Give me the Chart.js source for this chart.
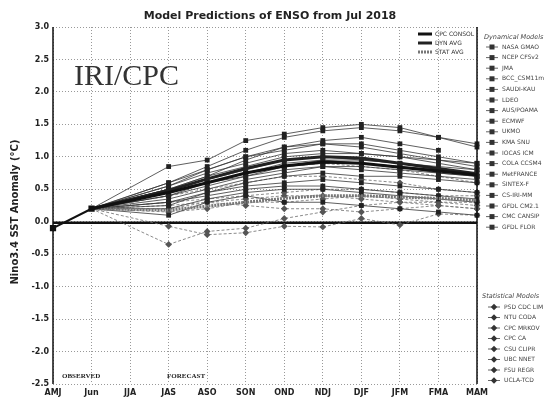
<!DOCTYPE html>
<html>
<head>
<meta charset="utf-8">
<script src="https://cdn.jsdelivr.net/npm/chart.js@4/dist/chart.umd.min.js"></script>
<style>
  body { margin: 0; background: #fff; }
  #plume { display: block; }
</style>
</head>
<body>
<canvas id="plume" width="551" height="406"></canvas>
<script>
// seasons on the x axis
const categories = ['AMJ', 'Jun', 'JJA', 'JAS', 'ASO', 'SON', 'OND', 'NDJ', 'DJF', 'JFM', 'FMA', 'MAM'];
const yMin = -2.5;
const yMax = 3.0;
const yStep = 0.5;

// observed anomalies (AMJ, Jun)
const observed = [-0.1, 0.2];

// forecasts, JAS .. MAM
const cpcConsol = [0.45, 0.6, 0.75, 0.86, 0.92, 0.9, 0.84, 0.78, 0.72];
const dynAvg    = [0.48, 0.66, 0.82, 0.95, 1.0, 0.98, 0.9, 0.82, 0.74];
const statAvg   = [0.18, 0.24, 0.3, 0.36, 0.4, 0.4, 0.38, 0.36, 0.33];

const dynNames = ['NASA GMAO', 'NCEP CFSv2', 'JMA', 'BCC_CSM11m', 'SAUDI-KAU', 'LDEO', 'AUS/POAMA', 'ECMWF', 'UKMO',
  'KMA SNU', 'IOCAS ICM', 'COLA CCSM4', 'MetFRANCE', 'SINTEX-F', 'CS-IRI-MM', 'GFDL CM2.1', 'CMC CANSIP', 'GFDL FLOR'];
const nasaGmao  = [0.6, 0.85, 1.1, 1.3, 1.4, 1.45, 1.4, 1.3, 1.15];
const ncepCfsv2 = [0.55, 0.8, 1.0, 1.15, 1.25, 1.3, 1.2, 1.1, null];
const jma       = [0.5, 0.7, 0.85, 1.0, 1.05, 1.05, 1.0, 0.95, 0.9];
const bccCsm    = [0.3, 0.45, 0.55, 0.6, 0.65, 0.6, 0.55, 0.5, 0.45];
const saudiKau  = [0.85, 0.95, 1.25, 1.35, 1.45, 1.5, 1.45, 1.3, 1.2];
const ldeo      = [0.4, 0.55, 0.7, 0.85, 0.95, 0.95, 0.9, 0.85, 0.8];
const ausPoama  = [0.5, 0.7, 0.95, 1.15, 1.2, 1.15, 1.05, 0.95, 0.85];
const ecmwf     = [0.55, 0.75, 0.9, 1.05, 1.1, 1.05, 1.0, 0.9, 0.8];
const ukmo      = [0.5, 0.65, 0.8, 0.95, 1.0, 0.95, 0.9, 0.8, 0.7];
const kmaSnu    = [0.35, 0.5, 0.65, 0.75, 0.85, 0.8, 0.75, 0.7, 0.65];
const iocasIcm  = [0.1, 0.3, 0.4, 0.3, 0.3, 0.25, 0.2, 0.15, 0.1];
const colaCcsm4 = [0.6, 0.8, 1.0, 1.1, 1.2, 1.2, 1.1, 1.0, 0.9];
const metFrance = [0.45, 0.6, 0.75, 0.9, 0.95, 0.9, 0.85, 0.75, 0.7];
const sintexF   = [0.3, 0.4, 0.5, 0.55, 0.55, 0.5, 0.45, 0.4, 0.35];
const csIriMm   = [0.4, 0.6, 0.75, 0.85, 0.9, 0.9, 0.85, 0.8, 0.75];
const gfdlCm21  = [0.25, 0.45, 0.6, 0.7, 0.75, 0.7, 0.7, 0.65, 0.6];
const cmcCansip = [0.45, 0.6, 0.7, 0.8, 0.85, 0.85, 0.8, 0.75, 0.7];
const gfdlFlor  = [0.2, 0.35, 0.45, 0.5, 0.5, 0.45, 0.4, 0.35, 0.3];
const dynValues = [nasaGmao, ncepCfsv2, jma, bccCsm, saudiKau, ldeo, ausPoama, ecmwf, ukmo,
  kmaSnu, iocasIcm, colaCcsm4, metFrance, sintexF, csIriMm, gfdlCm21, cmcCansip, gfdlFlor];

const statNames = ['PSD CDC LIM', 'NTU CODA', 'CPC MRKOV', 'CPC CA', 'CSU CLIPR', 'UBC NNET', 'FSU REGR', 'UCLA-TCD'];
const cdcLim   = [-0.35, -0.15, -0.1, 0.05, 0.15, 0.25, 0.3, 0.3, 0.3];
const ntuCoda  = [-0.07, -0.2, -0.17, -0.07, -0.08, 0.05, -0.05, 0.12, 0.1];
const cpcMrkov = [0.3, 0.35, 0.4, 0.45, 0.5, 0.5, 0.45, 0.4, 0.4];
const cpcCa    = [0.2, 0.3, 0.35, 0.4, 0.4, 0.35, 0.3, 0.25, 0.2];
const csuClipr = [0.4, 0.5, 0.6, 0.7, 0.7, 0.65, 0.6, 0.5, 0.45];
const ubcNnet  = [0.15, 0.2, 0.3, 0.3, 0.35, 0.4, 0.35, 0.3, 0.25];
const fsuRegr  = [0.5, 0.6, 0.75, 0.85, 0.9, 0.85, 0.8, 0.7, 0.6];
const uclaTcd  = [0.25, 0.3, 0.25, 0.2, 0.2, 0.15, 0.2, 0.25, 0.2];
const statValues = [cdcLim, ntuCoda, cpcMrkov, cpcCa, csuClipr, ubcNnet, fsuRegr, uclaTcd];

// forecast lines start from the last observed value
function toSeries(fc) {
    return [null, observed[1], null].concat(fc);
}
const fcRadius = r => ctx => (ctx.dataIndex < 3 ? 0 : r);

const datasets = [];
datasets.push({
    label: 'Observed',
    data: observed.concat(new Array(categories.length - observed.length).fill(null)),
    borderColor: '#111', backgroundColor: '#111', borderWidth: 2,
    pointRadius: 3, pointStyle: 'rect'
});
datasets.push({
    label: 'CPC CONSOL', data: toSeries(cpcConsol),
    borderColor: '#111', borderWidth: 3, pointRadius: 0, spanGaps: true
});
datasets.push({
    label: 'DYN AVG', data: toSeries(dynAvg),
    borderColor: '#222', borderWidth: 3, pointRadius: 0, spanGaps: true
});
datasets.push({
    label: 'STAT AVG', data: toSeries(statAvg),
    borderColor: '#777', borderWidth: 3, borderDash: [2, 1], pointRadius: 0, spanGaps: true
});
dynNames.forEach((name, i) => {
    datasets.push({
        label: name, data: toSeries(dynValues[i]),
        borderColor: 'rgba(55,55,55,0.8)', backgroundColor: '#222', borderWidth: 1,
        pointStyle: 'rect', pointRadius: fcRadius(3.4), pointBorderWidth: 0, spanGaps: true
    });
});
statNames.forEach((name, i) => {
    datasets.push({
        label: name, data: toSeries(statValues[i]),
        borderColor: 'rgba(110,110,110,0.8)', backgroundColor: '#555', borderWidth: 1, borderDash: [3, 2],
        pointStyle: 'rectRot', pointRadius: fcRadius(3.4), pointBorderWidth: 0, spanGaps: true
    });
});

const decor = {
    id: 'decor',
    beforeDatasetsDraw(chart) {
        const { ctx, chartArea: a, scales: { y } } = chart;
        const y0 = y.getPixelForValue(0);
        ctx.save();
        ctx.strokeStyle = '#111';
        ctx.lineWidth = 2.5;
        ctx.beginPath();
        ctx.moveTo(a.left, y0 + 1);
        ctx.lineTo(a.right, y0 + 1);
        ctx.stroke();
        ctx.restore();
    },
    afterDraw(chart) {
        const { ctx, chartArea: a } = chart;
        ctx.save();
        // frame
        ctx.strokeStyle = '#111';
        ctx.lineWidth = 1.5;
        ctx.beginPath();
        ctx.moveTo(a.left, a.top); ctx.lineTo(a.left, a.bottom);
        ctx.moveTo(a.right, a.top); ctx.lineTo(a.right, a.bottom);
        ctx.stroke();

        ctx.fillStyle = '#222';
        ctx.textBaseline = 'middle';
        ctx.textAlign = 'center';
        ctx.font = 'bold 11px "DejaVu Sans"';
        ctx.fillText('Model Predictions of ENSO from Jul 2018', 270, 16);

        ctx.save();
        ctx.translate(15, 212);
        ctx.rotate(-Math.PI / 2);
        ctx.font = 'bold 10px "DejaVu Sans"';
        ctx.fillText('Nino3.4 SST Anomaly (\u00B0C)', 0, 0);
        ctx.restore();

        ctx.textAlign = 'left';
        ctx.font = '30px "Liberation Serif"';
        ctx.fillStyle = '#333';
        ctx.fillText('IRI/CPC', 74, 77);

        ctx.font = 'bold 7px "Liberation Serif"';
        ctx.fillStyle = '#222';
        ctx.fillText('OBSERVED', 62, 376);
        ctx.fillText('FORECAST', 167, 376);

        // inner legend
        const inner = [['CPC CONSOL', '#111', []], ['DYN AVG', '#222', []], ['STAT AVG', '#777', [2, 1]]];
        ctx.font = '6px "DejaVu Sans"';
        inner.forEach((it, i) => {
            const yy = 34 + i * 9;
            ctx.strokeStyle = it[1];
            ctx.lineWidth = 3;
            ctx.setLineDash(it[2]);
            ctx.beginPath(); ctx.moveTo(418, yy); ctx.lineTo(432, yy); ctx.stroke();
            ctx.setLineDash([]);
            ctx.fillStyle = '#333';
            ctx.fillText(it[0], 435, yy);
        });

        // outer legend
        const drawEntry = (name, x, yy, style) => {
            ctx.strokeStyle = '#666';
            ctx.lineWidth = 1;
            ctx.beginPath(); ctx.moveTo(x - 6, yy); ctx.lineTo(x + 6, yy); ctx.stroke();
            ctx.fillStyle = '#333';
            if (style === 'rect') {
                ctx.fillRect(x - 2.5, yy - 2.5, 5, 5);
            } else {
                ctx.beginPath();
                ctx.moveTo(x, yy - 3.2); ctx.lineTo(x + 3.2, yy); ctx.lineTo(x, yy + 3.2); ctx.lineTo(x - 3.2, yy);
                ctx.closePath(); ctx.fill();
            }
            ctx.fillStyle = '#444';
            ctx.fillText(name, x + 10, yy);
        };
        ctx.font = 'italic 6.5px "DejaVu Sans"';
        ctx.fillStyle = '#444';
        ctx.fillText('Dynamical Models', 484, 37);
        ctx.font = '6px "DejaVu Sans"';
        dynNames.forEach((n, i) => drawEntry(n, 492, 47 + i * 10.6, 'rect'));
        ctx.font = 'italic 6.5px "DejaVu Sans"';
        ctx.fillStyle = '#444';
        ctx.fillText('Statistical Models', 482, 296);
        ctx.font = '6px "DejaVu Sans"';
        statNames.forEach((n, i) => drawEntry(n, 494, 307 + i * 10.5, 'rectRot'));
        ctx.restore();
    }
};

new Chart(document.getElementById('plume').getContext('2d'), {
    type: 'line',
    data: { labels: categories, datasets: datasets },
    options: {
        responsive: false,
        animation: false,
        layout: { padding: { left: 0, right: 74, top: 27, bottom: 0 } },
        plugins: { legend: { display: false }, tooltip: { enabled: false }, title: { display: false } },
        elements: { line: { tension: 0 } },
        scales: {
            x: {
                offset: false,
                grid: { color: '#999', lineWidth: 1, drawTicks: false },
                border: { display: false, dash: [1, 2] },
                ticks: { color: '#222', font: { family: 'DejaVu Sans', size: 8, weight: 'bold' }, padding: 4, maxRotation: 0, autoSkip: false },
                afterFit: s => { s.height = 22; }
            },
            y: {
                min: yMin, max: yMax,
                grid: { color: '#999', lineWidth: 1, drawTicks: false },
                border: { display: false, dash: [1, 2] },
                ticks: {
                    stepSize: yStep, padding: 4, color: '#222',
                    font: { family: 'DejaVu Sans', size: 8, weight: 'bold' },
                    callback: v => v.toFixed(1)
                },
                afterFit: s => { s.width = 53; }
            }
        }
    },
    plugins: [decor]
});
</script>
</body>
</html>
